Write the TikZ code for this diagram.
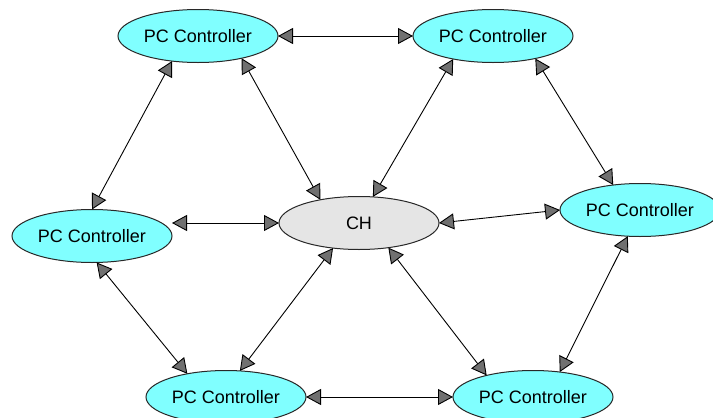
\documentclass[tikz,border=0pt]{standalone}
\usepackage{fontspec}
\setmainfont{Liberation Sans}
\usetikzlibrary{shapes.geometric,arrows.meta}
\definecolor{pccyan}{RGB}{128,255,255}
\definecolor{chgray}{RGB}{229,229,229}
\definecolor{tipgray}{RGB}{112,112,112}
\definecolor{outl}{RGB}{40,40,40}
\tikzset{
  ctrl/.style={ellipse, draw=outl, line width=1pt, fill=pccyan, minimum width=160pt, minimum height=53pt, inner sep=0pt, outer sep=0pt, font=\fontsize{18}{21}\selectfont},
  hub/.style={ctrl, fill=chgray},
  link/.style={draw=black, line width=0.9pt, {Triangle[length=15pt,width=16pt,fill=tipgray]}-{Triangle[length=15pt,width=16pt,fill=tipgray]}}
}
\begin{document}
\begin{tikzpicture}[x=1pt,y=-1pt]
\useasboundingbox (0,0) rectangle (713,418);
\node[ctrl] (tl) at (198,36) {PC Controller};
\node[ctrl] (tr) at (493,36) {PC Controller};
\node[ctrl] (left) at (92,236) {PC Controller};
\node[hub] (ch) at (359,223) {CH};
\node[ctrl] (right) at (640,210) {PC Controller};
\node[ctrl] (bl) at (226,397) {PC Controller};
\node[ctrl] (br) at (533,397) {PC Controller};

\draw[link] (tl.east) -- (tr.west);
\draw[link] (tl.-136) -- (left.north);
\draw[link] (tl.-27) -- (ch.149);
\draw[link] (tr.-150) -- (ch.62);
\draw[link] (tr.-28) -- (right.137);
\draw[link] (left.east |- ch.west) -- (ch.west);
\draw[link] (ch.east) -- (right.west);
\draw[link] (left.-80) -- (bl.149);
\draw[link] (ch.-136) -- (bl.62);
\draw[link] (ch.-40) -- (br.155);
\draw[link] (right.-115) -- (br.43);
\draw[link] (bl.east) -- (br.west);
\end{tikzpicture}
\end{document}
